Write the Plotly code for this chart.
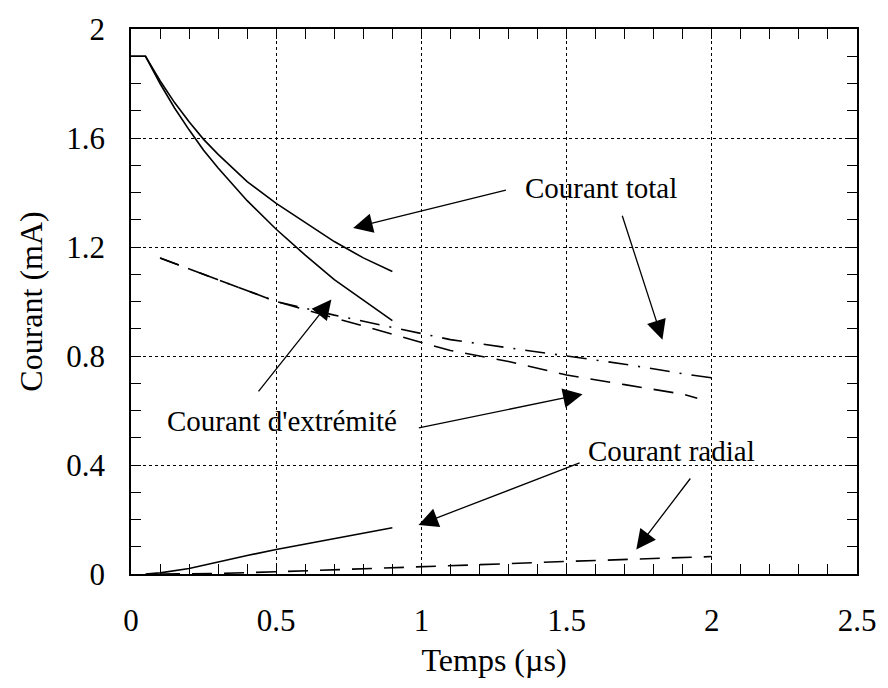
import plotly.graph_objects as go

# modèle 1 (trait plein), 0 - 0.9 µs
t_plein = [0, 0.05, 0.1, 0.15, 0.2, 0.25, 0.3, 0.4, 0.5, 0.6, 0.7, 0.8, 0.9]
total_plein = [1.9, 1.9, 1.81, 1.73, 1.66, 1.595, 1.54, 1.44, 1.36, 1.29, 1.22, 1.16, 1.11]
extremite_plein = [1.9, 1.9, 1.80, 1.71, 1.63, 1.555, 1.49, 1.37, 1.265, 1.17, 1.08, 1.005, 0.93]

t_radial_plein = [0.05, 0.1, 0.2, 0.3, 0.4, 0.5, 0.6, 0.7, 0.8, 0.9]
radial_plein = [0, 0.004, 0.02, 0.045, 0.068, 0.09, 0.11, 0.13, 0.15, 0.17]

# modèle 2 (tirets), 0.1 - 2 µs
t_total_tir = [0.1, 0.3, 0.5, 0.7, 0.9, 1.1, 1.3, 1.5, 1.7, 1.9, 2.0]
total_tir = [1.16, 1.08, 1.00, 0.95, 0.905, 0.86, 0.83, 0.80, 0.77, 0.735, 0.72]

t_extr_tir = [0.1, 0.3, 0.5, 0.7, 0.9, 1.1, 1.3, 1.5, 1.7, 1.9, 1.95]
extremite_tir = [1.16, 1.08, 1.00, 0.94, 0.88, 0.82, 0.78, 0.73, 0.695, 0.66, 0.645]

t_radial_tir = [0.1, 0.3, 0.5, 0.7, 0.9, 1.1, 1.3, 1.5, 1.7, 1.9, 2.0]
radial_tir = [0, 0.002, 0.008, 0.015, 0.022, 0.03, 0.038, 0.046, 0.054, 0.061, 0.064]

# étiquettes et flèches : (texte, x, y)
labels = [("Courant total", 1.62, 1.415),
          ("Courant d'extrémité", 0.52, 0.56),
          ("Courant radial", 1.86, 0.45)]
# (x_queue, y_queue, x_tete, y_tete)
fleches = [(1.296, 1.41, 0.765, 1.27),
           (1.69, 1.32, 1.83, 0.86),
           (0.435, 0.665, 0.69, 1.007),
           (0.986, 0.535, 1.555, 0.66),
           (1.55, 0.41, 0.99, 0.18),
           (1.93, 0.356, 1.74, 0.09)]

FONT = "Liberation Serif"
fig = go.Figure()

def ligne(x, y, dash):
    fig.add_trace(go.Scatter(x=x, y=y, mode="lines",
                             line=dict(color="black", width=1.6, dash=dash)))

ligne(t_plein, total_plein, "solid")
ligne(t_plein, extremite_plein, "solid")
ligne(t_radial_plein, radial_plein, "solid")
ligne(t_total_tir, total_tir, "20px,10px,2px,10px")
ligne(t_extr_tir, extremite_tir, "20px,12px")
ligne(t_radial_tir, radial_tir, "20px,12px")

for txt, x, y in labels:
    fig.add_annotation(x=x, y=y, text=txt, showarrow=False,
                       font=dict(family=FONT, size=29, color="black"))

for xq, yq, xt, yt in fleches:
    fig.add_annotation(x=xt, y=yt, ax=xq, ay=yq, axref="x", ayref="y",
                       text="", showarrow=True, arrowhead=2, arrowsize=3,
                       arrowwidth=1.3, arrowcolor="black", standoff=0)

axe = dict(showline=True, linecolor="black", linewidth=1.5, mirror="ticks",
           ticks="inside", ticklen=10, tickwidth=1.2, tickcolor="black",
           showgrid=True, gridcolor="black", gridwidth=1, griddash="dot",
           zeroline=False, ticklabeloverflow="allow",
           tickfont=dict(family=FONT, size=31, color="black"),
           minor=dict(ticks="inside", ticklen=10, tickwidth=1.2, tickcolor="black",
                      dtick=0.1, showgrid=False))

fig.update_layout(
    width=888, height=688,
    margin=dict(l=131, r=20, t=24, b=114),
    paper_bgcolor="white", plot_bgcolor="white",
    showlegend=False,
    font=dict(family=FONT, color="black"),
    xaxis=dict(axe, range=[0, 2.5], tick0=0, dtick=0.5, tickformat="~g",
               ticklabelstandoff=18,
               title=dict(text="Temps (µs)", font=dict(family=FONT, size=32), standoff=12)),
    yaxis=dict(axe, range=[0, 2], tick0=0, dtick=0.4, tickformat="~g",
               ticklabelstandoff=18,
               title=dict(text="Courant (mA)", font=dict(family=FONT, size=32), standoff=14)),
)

# pas de marge du <body> : la figure occupe exactement la fenêtre
fig.write_html("out.html", config={"displayModeBar": False},
               post_script="document.body.style.margin='0';document.body.style.overflow='hidden';")
